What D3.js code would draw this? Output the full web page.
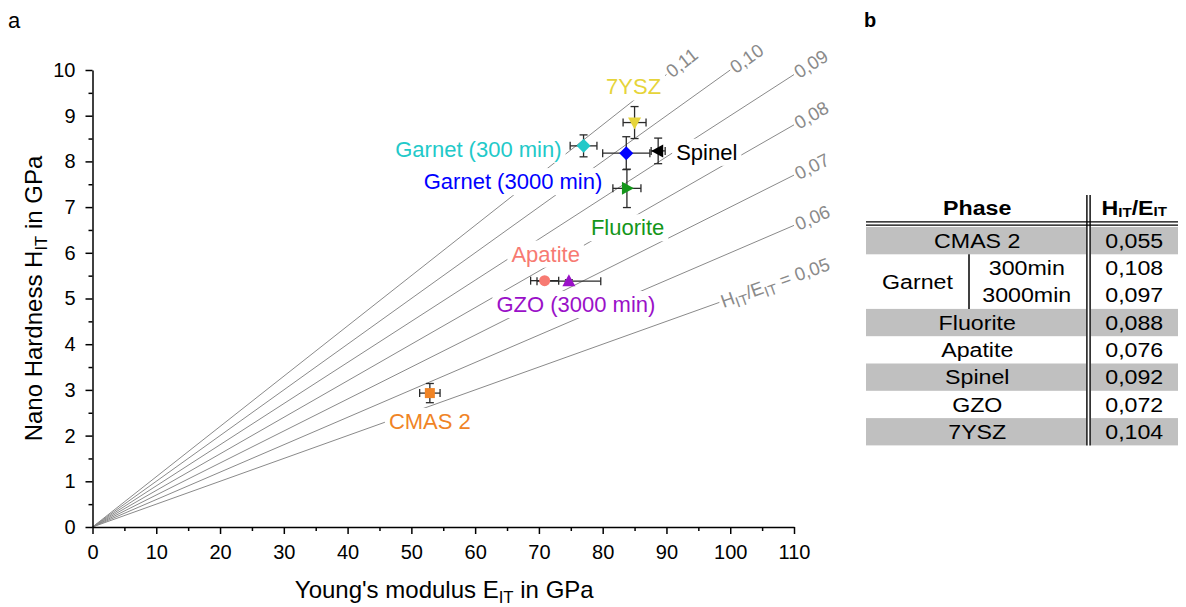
<!DOCTYPE html>
<html>
<head>
<meta charset="utf-8">
<script src="https://cdn.jsdelivr.net/npm/d3@7"></script>
<style>
  html, body { margin: 0; padding: 0; background: #fff; }
  svg { display: block; font-family: "Liberation Sans", Arial, Helvetica, sans-serif; }
</style>
</head>
<body>
<svg id="chart" width="1186" height="607"></svg>
<script>
// ---- Data: indentation measurements per phase ----
const phases   = ["7YSZ", "Garnet (300 min)", "Garnet (3000 min)", "Spinel", "Fluorite", "Apatite", "GZO (3000 min)", "CMAS 2"];
const modulus  = [85.0, 77.0, 83.7, 88.7, 83.8, 70.9, 74.7, 52.9];   // E_IT in GPa
const modErr   = [1.8, 2.1, 3.7, 1.1, 2.2, 2.2, 5.0, 1.6];
const hardness = [8.85, 8.34, 8.18, 8.23, 7.41, 5.39, 5.38, 2.93];  // H_IT in GPa
const hardErr  = [0.35, 0.24, 0.36, 0.28, 0.42, 0.03, 0.03, 0.21];
const symbols  = ["triangleDown", "diamond", "diamond", "triangleLeft", "triangleRight", "circle", "triangleUp", "square"];
const colors   = ["#e6d43a", "#22c9c9", "#0000ff", "#000000", "#14961a", "#f77a72", "#9a10c8", "#f08426"];

// Iso-ratio reference lines H/E
const ratios     = [0.05, 0.06, 0.07, 0.08, 0.09, 0.10, 0.11];
const ratioEnds  = [98.3, 110, 110, 110, 110, 100, 90];     // E at which each line stops
const ratioNames = ["0,05", "0,06", "0,07", "0,08", "0,09", "0,10", "0,11"];

// Axis ticks
const xTicks = [0, 10, 20, 30, 40, 50, 60, 70, 80, 90, 100, 110];
const yTicks = [0, 1, 2, 3, 4, 5, 6, 7, 8, 9, 10];

// Table (panel b)
const tablePhase  = ["CMAS 2", "Garnet", "Garnet", "Fluorite", "Apatite", "Spinel", "GZO", "7YSZ"];
const tableSub    = [null, "300min", "3000min", null, null, null, null, null];
const tableValues = ["0,055", "0,108", "0,097", "0,088", "0,076", "0,092", "0,072", "0,104"];
const tableShaded = [true, false, false, true, false, true, false, true];

// ---- Layout ----
const svg = d3.select("#chart");
const x = d3.scaleLinear().domain([0, 110]).range([92.5, 794]);
const y = d3.scaleLinear().domain([0, 10]).range([527, 70]);
const FONT_TICK = 20, FONT_TITLE = 24, FONT_LABEL = 22, FONT_RATIO = 18.5;

// Placement of the phase names relative to their marker (pixels)
const labelPlacement = {
  "7YSZ":              {dx: -1,  dy: -36, anchor: "middle"},
  "Garnet (300 min)":  {dx: -22, dy: 3,   anchor: "end"},
  "Garnet (3000 min)": {dx: -24, dy: 28,  anchor: "end"},
  "Spinel":            {dx: 18,  dy: 1,   anchor: "start"},
  "Fluorite":          {dx: -36, dy: 39,  anchor: "start"},
  "Apatite":           {dx: 1,   dy: -27, anchor: "middle"},
  "GZO (3000 min)":    {dx: 7,   dy: 23,  anchor: "middle"},
  "CMAS 2":            {dx: 0,   dy: 28,  anchor: "middle"}
};

const points = phases.map((p, i) => ({
  name: p, e: modulus[i], eErr: modErr[i], h: hardness[i], hErr: hardErr[i],
  sym: symbols[i], color: colors[i]
}));

// Panel letters
svg.append("text").attr("x", 8).attr("y", 28).attr("font-size", 22).text("a");
svg.append("text").attr("x", 864).attr("y", 27).attr("font-size", 20).attr("font-weight", "bold").text("b");

// ---- Iso-ratio lines ----
const gLines = svg.append("g");
ratios.forEach((r, i) => {
  gLines.append("line")
    .attr("x1", x(0)).attr("y1", y(0))
    .attr("x2", x(ratioEnds[i])).attr("y2", y(r * ratioEnds[i]))
    .attr("stroke", "#8a8a8a").attr("stroke-width", 1);
});

// Labels at the end of each line, rotated along it
const gRatioLabels = svg.append("g").attr("fill", "#8a8a8a").attr("font-size", FONT_RATIO);
ratios.forEach((r, i) => {
  const ex = x(ratioEnds[i]), ey = y(r * ratioEnds[i]);
  const ang = Math.atan2(y(0) - y(r * 10), x(10) - x(0)) * 180 / Math.PI;
  const t = gRatioLabels.append("text")
    .attr("transform", `translate(${ex},${ey}) rotate(${-ang})`)
    .attr("x", 2).attr("dy", "0.36em");
  if (i === 0) {
    t.append("tspan").text("H");
    t.append("tspan").attr("font-size", FONT_RATIO * 0.8).attr("dy", "0.3em").text("IT");
    t.append("tspan").attr("dy", "-0.24em").text("/E");
    t.append("tspan").attr("font-size", FONT_RATIO * 0.8).attr("dy", "0.3em").text("IT");
    t.append("tspan").attr("dy", "-0.24em").text(" = " + ratioNames[i]);
  } else {
    t.text(ratioNames[i]);
  }
});

// ---- Phase labels: white backgrounds that interrupt the reference lines ----
const gLabelBg = svg.append("g");
const gErr = svg.append("g").attr("stroke", "#2a2a2a").attr("stroke-width", 1.3);
const gMarks = svg.append("g");
const gLabels = svg.append("g").attr("font-size", FONT_LABEL);

points.forEach(d => {
  const px = x(d.e), py = y(d.h);
  const pl = labelPlacement[d.name];
  const t = gLabels.append("text")
    .attr("x", px + pl.dx).attr("y", py + pl.dy).attr("dy", "0.36em")
    .attr("text-anchor", pl.anchor).attr("fill", d.color).text(d.name);
  const bb = t.node().getBBox();
  gLabelBg.append("rect")
    .attr("x", bb.x - 4).attr("y", bb.y - 1).attr("width", bb.width + 8).attr("height", bb.height + 2)
    .attr("fill", "#fff");
});

// ---- Error bars ----
const cap = 4;
points.forEach(d => {
  const px = x(d.e), py = y(d.h);
  const x0 = x(d.e - d.eErr), x1 = x(d.e + d.eErr);
  const y0 = y(d.h - d.hErr), y1 = y(d.h + d.hErr);
  gErr.append("line").attr("x1", x0).attr("x2", x1).attr("y1", py).attr("y2", py);
  gErr.append("line").attr("x1", x0).attr("x2", x0).attr("y1", py - cap).attr("y2", py + cap);
  gErr.append("line").attr("x1", x1).attr("x2", x1).attr("y1", py - cap).attr("y2", py + cap);
  gErr.append("line").attr("x1", px).attr("x2", px).attr("y1", y0).attr("y2", y1);
  gErr.append("line").attr("x1", px - cap).attr("x2", px + cap).attr("y1", y0).attr("y2", y0);
  gErr.append("line").attr("x1", px - cap).attr("x2", px + cap).attr("y1", y1).attr("y2", y1);
});

// ---- Markers ----
function markerPath(sym) {
  const p = d3.path();
  switch (sym) {
    case "diamond": p.moveTo(0, -7); p.lineTo(7, 0); p.lineTo(0, 7); p.lineTo(-7, 0); break;
    case "square": p.rect(-5, -5, 10, 10); return p.toString();
    case "circle": p.arc(0, 0, 5.5, 0, 2 * Math.PI); return p.toString();
    case "triangleUp": p.moveTo(0, -7); p.lineTo(6.5, 5); p.lineTo(-6.5, 5); break;
    case "triangleDown": p.moveTo(0, 7); p.lineTo(6.5, -5); p.lineTo(-6.5, -5); break;
    case "triangleLeft": p.moveTo(-7, 0); p.lineTo(5, -6.5); p.lineTo(5, 6.5); break;
    case "triangleRight": p.moveTo(7, 0); p.lineTo(-5, -6.5); p.lineTo(-5, 6.5); break;
  }
  p.closePath();
  return p.toString();
}
points.forEach(d => {
  gMarks.append("path")
    .attr("transform", `translate(${x(d.e)},${y(d.h)})`)
    .attr("d", markerPath(d.sym))
    .attr("fill", d.color);
});

// ---- Axes ----
const xMinor = d3.range(5, 110, 10);
const yMinor = d3.range(0.5, 10, 1);

svg.append("g").attr("transform", `translate(0,${y(0)})`)
  .call(d3.axisBottom(x).tickValues(xTicks).tickSize(7).tickSizeOuter(0).tickPadding(11).tickFormat(d3.format("d")));
svg.append("g").attr("transform", `translate(0,${y(0)})`)
  .call(d3.axisBottom(x).tickValues(xMinor).tickSize(4).tickSizeOuter(0).tickFormat(""))
  .call(g => g.select(".domain").remove());

svg.append("g").attr("transform", `translate(${x(0)},0)`)
  .call(d3.axisLeft(y).tickValues(yTicks).tickSize(7).tickSizeOuter(0).tickPadding(10).tickFormat(d3.format("d")));
svg.append("g").attr("transform", `translate(${x(0)},0)`)
  .call(d3.axisLeft(y).tickValues(yMinor).tickSize(4).tickSizeOuter(0).tickFormat(""))
  .call(g => g.select(".domain").remove());

svg.selectAll(".tick line, .domain").attr("stroke", "#000").attr("stroke-width", 1.5);
svg.selectAll(".tick text").attr("font-size", FONT_TICK).attr("font-family", null).attr("fill", "#000");

// Axis titles
const xt = svg.append("text").attr("x", (x(0) + x(110)) / 2 + 1).attr("y", 598)
  .attr("text-anchor", "middle").attr("font-size", FONT_TITLE);
xt.append("tspan").text("Young's modulus E");
xt.append("tspan").attr("font-size", FONT_TITLE * 0.7).attr("dy", "0.3em").text("IT");
xt.append("tspan").attr("dy", "-0.21em").text(" in GPa");

const yt = svg.append("text")
  .attr("transform", `translate(42,${(y(0) + y(10)) / 2}) rotate(-90)`)
  .attr("text-anchor", "middle").attr("font-size", FONT_TITLE);
yt.append("tspan").text("Nano Hardness H");
yt.append("tspan").attr("font-size", FONT_TITLE * 0.7).attr("dy", "0.3em").text("IT");
yt.append("tspan").attr("dy", "-0.21em").text(" in GPa");

// ---- Panel b: table of H/E ratios ----
const T = { left: 866, right: 1178, split: 1088.5, top: 195, headBottom: 223.5, rowTop: 227, rowH: 27.3, garnetSplit: 969 };
const FONT_TABLE = 20, TABLE_STRETCH = 1.16;
const gt = svg.append("g").attr("font-size", FONT_TABLE);

// Table text is set slightly wide
function cellText(cx, cy, str) {
  return gt.append("text")
    .attr("transform", `translate(${cx},${cy}) scale(${TABLE_STRETCH},1)`)
    .attr("dy", "0.36em").attr("text-anchor", "middle").text(str);
}

tableValues.forEach((v, i) => {
  const ry = T.rowTop + i * T.rowH;
  if (tableShaded[i]) {
    gt.append("rect").attr("x", T.left).attr("y", ry).attr("width", T.split - 2.5 - T.left).attr("height", T.rowH).attr("fill", "#c0c0c0");
    gt.append("rect").attr("x", T.split + 2.5).attr("y", ry).attr("width", T.right - T.split - 2.5).attr("height", T.rowH).attr("fill", "#c0c0c0");
  }
  const cy = ry + T.rowH / 2;
  if (tableSub[i] === null) {
    cellText((T.left + T.split) / 2, cy, tablePhase[i]);
  } else {
    cellText((T.garnetSplit + T.split) / 2 - 2, cy, tableSub[i]);
  }
  cellText((T.split + T.right) / 2 + 1, cy, v);
});

// Merged "Garnet" cell spanning its two sub-rows
const garnetRows = tableSub.map((s, i) => s ? i : -1).filter(i => i >= 0);
const gTop = T.rowTop + garnetRows[0] * T.rowH, gBot = T.rowTop + (garnetRows[garnetRows.length - 1] + 1) * T.rowH;
cellText((T.left + T.garnetSplit) / 2, (gTop + gBot) / 2, tablePhase[garnetRows[0]]);
gt.append("line").attr("x1", T.garnetSplit).attr("x2", T.garnetSplit).attr("y1", gTop).attr("y2", gBot)
  .attr("stroke", "#000").attr("stroke-width", 1.5);

// Header
cellText((T.left + T.split) / 2, T.top + 13, "Phase").attr("font-weight", "bold");
const hh = cellText((T.split + T.right) / 2 + 1, T.top + 13, null).attr("font-weight", "bold");
hh.append("tspan").text("H");
hh.append("tspan").attr("font-size", FONT_TABLE * 0.65).attr("dy", "0.1em").text("IT");
hh.append("tspan").attr("dy", "-0.1em").text("/E");
hh.append("tspan").attr("font-size", FONT_TABLE * 0.65).attr("dy", "0.1em").text("IT");

// Double rules
const tableBottom = T.rowTop + tableValues.length * T.rowH;
[-1.6, 1.6].forEach(o => {
  gt.append("line").attr("x1", T.left).attr("x2", T.right).attr("y1", T.headBottom + o).attr("y2", T.headBottom + o)
    .attr("stroke", "#000").attr("stroke-width", 1.4);
  gt.append("line").attr("x1", T.split + o).attr("x2", T.split + o).attr("y1", T.top).attr("y2", tableBottom)
    .attr("stroke", "#000").attr("stroke-width", 1.4);
});
</script>
</body>
</html>
